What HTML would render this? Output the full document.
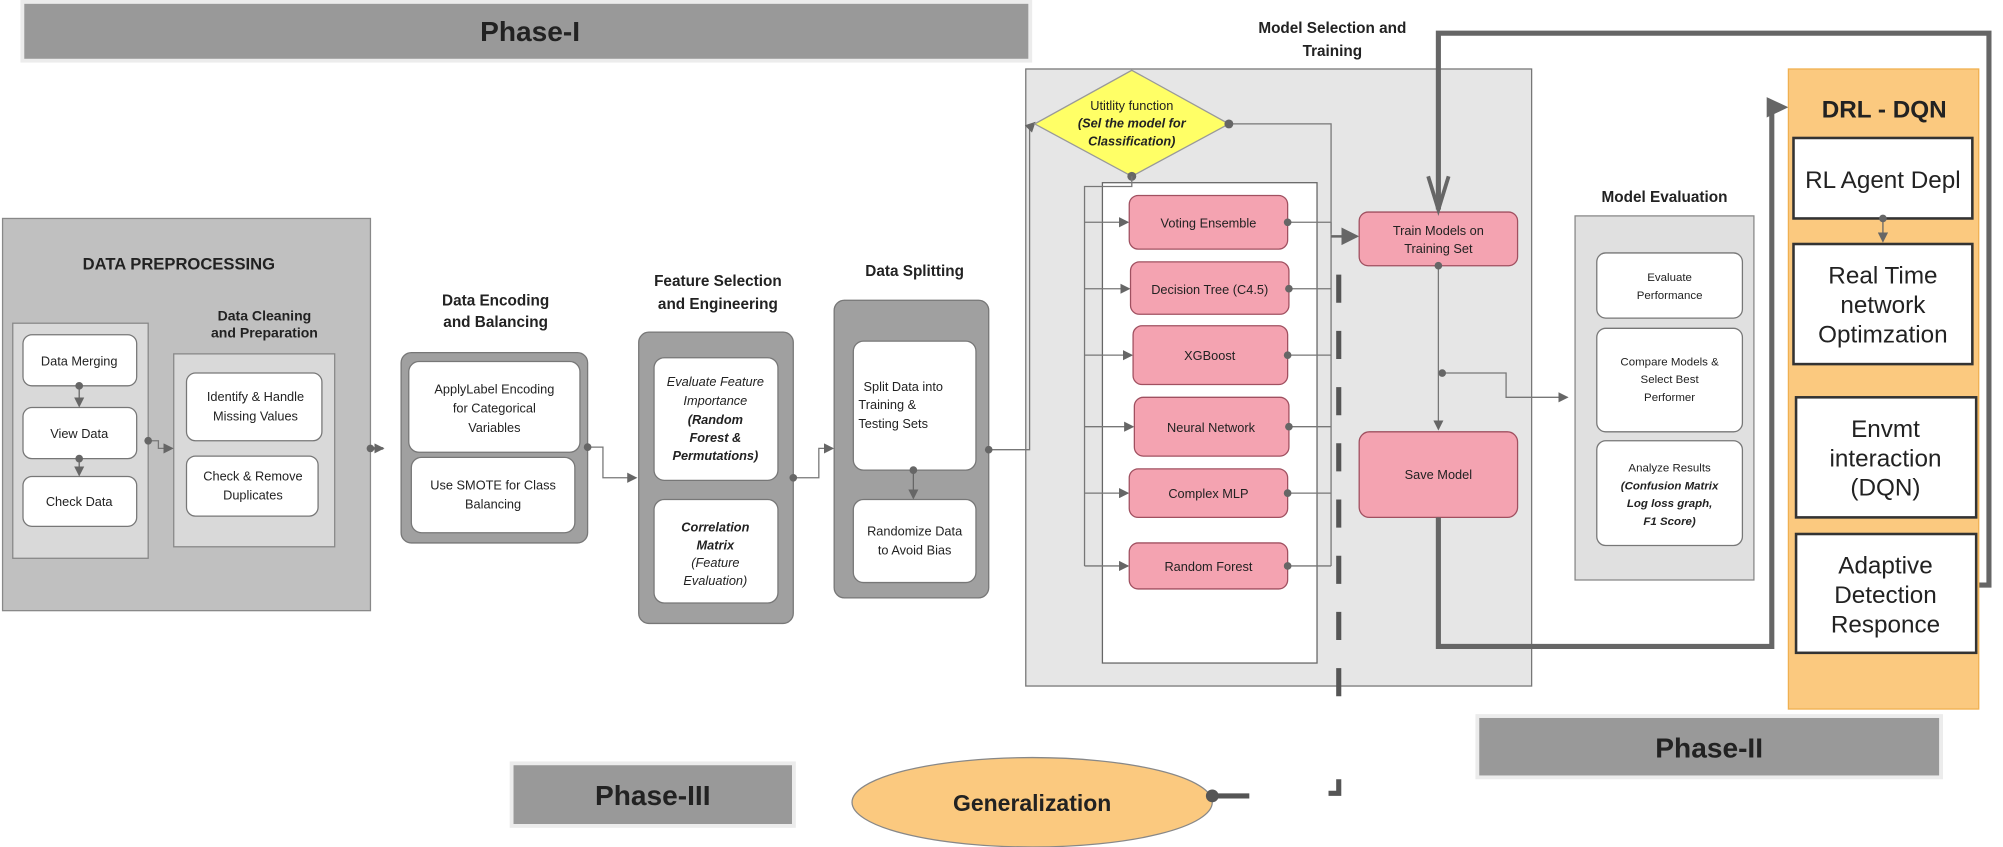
<!DOCTYPE html>
<html><head><meta charset="utf-8"><style>
html,body{margin:0;padding:0;background:#fff;width:2003px;height:847px;overflow:hidden}
svg{display:block}
text{font-family:"Liberation Sans",sans-serif;fill:#222}
</style></head><body>
<svg width="2003" height="847" viewBox="0 0 1568 663" preserveAspectRatio="none" xmlns="http://www.w3.org/2000/svg">
<defs>
<marker id="a" markerWidth="8" markerHeight="8" refX="7" refY="4" orient="auto" markerUnits="userSpaceOnUse"><path d="M0,0L8,4L0,8z" fill="#666"/></marker>
<marker id="b" markerWidth="14" markerHeight="14" refX="12" refY="7" orient="auto" markerUnits="userSpaceOnUse"><path d="M0,0L14,7L0,14z" fill="#666"/></marker>
</defs>
<!-- Phase bars -->
<rect x="16" y="0" width="792" height="49" fill="#ececec"/>
<rect x="19" y="3" width="786" height="43" fill="#999"/>
<text x="415" y="32" font-size="22" font-weight="bold" text-anchor="middle" fill="#111">Phase-I</text>
<rect x="399" y="596" width="224" height="52" fill="#ececec"/>
<rect x="402" y="599" width="218" height="46" fill="#999"/>
<text x="511" y="630" font-size="22" font-weight="bold" text-anchor="middle" fill="#111">Phase-III</text>
<rect x="1155" y="559" width="366" height="51" fill="#ececec"/>
<rect x="1158" y="562" width="360" height="45" fill="#999"/>
<text x="1338" y="593" font-size="22" font-weight="bold" text-anchor="middle" fill="#111">Phase-II</text>

<!-- Data preprocessing -->
<rect x="2" y="171" width="288" height="307" fill="#c0c0c0" stroke="#888"/>
<text x="140" y="211" font-size="13" font-weight="bold" text-anchor="middle" fill="#1f3864">DATA PREPROCESSING</text>
<rect x="10" y="253" width="106" height="184" fill="#d9d9d9" stroke="#888"/>
<rect x="18" y="262" width="89" height="40" rx="7" fill="#fff" stroke="#777"/>
<text x="62" y="286" font-size="10" text-anchor="middle">Data Merging</text>
<rect x="18" y="319" width="89" height="40" rx="7" fill="#fff" stroke="#777"/>
<text x="62" y="343" font-size="10" text-anchor="middle">View Data</text>
<rect x="18" y="373" width="89" height="39" rx="7" fill="#fff" stroke="#777"/>
<text x="62" y="396" font-size="10" text-anchor="middle">Check Data</text>
<g stroke="#666" fill="none"><line x1="62" y1="302" x2="62" y2="318" marker-end="url(#a)"/><line x1="62" y1="359" x2="62" y2="372" marker-end="url(#a)"/></g>
<circle cx="62" cy="302" r="3" fill="#666"/><circle cx="62" cy="359" r="3" fill="#666"/>
<text x="207" y="251" font-size="11" font-weight="bold" text-anchor="middle">Data Cleaning</text>
<text x="207" y="264" font-size="11" font-weight="bold" text-anchor="middle">and Preparation</text>
<rect x="136" y="277" width="126" height="151" fill="#d9d9d9" stroke="#888"/>
<rect x="146" y="292" width="106" height="53" rx="7" fill="#fff" stroke="#777"/>
<text x="200" y="314" font-size="10" text-anchor="middle">Identify &amp; Handle</text>
<text x="200" y="329" font-size="10" text-anchor="middle">Missing Values</text>
<rect x="146" y="357" width="103" height="47" rx="7" fill="#fff" stroke="#777"/>
<text x="198" y="376" font-size="10" text-anchor="middle">Check &amp; Remove</text>
<text x="198" y="391" font-size="10" text-anchor="middle">Duplicates</text>
<polyline points="116,345 124,345 124,351 135,351" fill="none" stroke="#777" marker-end="url(#a)"/>
<circle cx="116" cy="345" r="3" fill="#666"/>
<polyline points="288,351 300,351" fill="none" stroke="#666" stroke-width="2" marker-end="url(#a)"/>
<circle cx="290" cy="351" r="3" fill="#666"/>

<!-- Data encoding -->
<text x="388" y="239" font-size="12" font-weight="bold" text-anchor="middle">Data Encoding</text>
<text x="388" y="256" font-size="12" font-weight="bold" text-anchor="middle">and Balancing</text>
<rect x="314" y="276" width="146" height="149" rx="8" fill="#a0a0a0" stroke="#777"/>
<rect x="320" y="283" width="134" height="71" rx="8" fill="#fff" stroke="#777"/>
<text x="387" y="308" font-size="10" text-anchor="middle">ApplyLabel Encoding</text>
<text x="387" y="323" font-size="10" text-anchor="middle">for Categorical</text>
<text x="387" y="338" font-size="10" text-anchor="middle">Variables</text>
<rect x="322" y="358" width="128" height="59" rx="8" fill="#fff" stroke="#777"/>
<text x="386" y="383" font-size="10" text-anchor="middle">Use SMOTE for Class</text>
<text x="386" y="398" font-size="10" text-anchor="middle">Balancing</text>
<polyline points="460,350 472,350 472,374 498,374" fill="none" stroke="#777" marker-end="url(#a)"/>
<circle cx="460" cy="350" r="3" fill="#666"/>

<!-- Feature selection -->
<text x="562" y="224" font-size="12" font-weight="bold" text-anchor="middle">Feature Selection</text>
<text x="562" y="242" font-size="12" font-weight="bold" text-anchor="middle">and Engineering</text>
<rect x="500" y="260" width="121" height="228" rx="8" fill="#a0a0a0" stroke="#777"/>
<rect x="512" y="280" width="97" height="96" rx="8" fill="#fff" stroke="#777"/>
<text x="560" y="302" font-size="10" font-style="italic" text-anchor="middle">Evaluate Feature</text>
<text x="560" y="317" font-size="10" font-style="italic" text-anchor="middle">Importance</text>
<text x="560" y="332" font-size="10" font-style="italic" font-weight="bold" fill="#1f3864" text-anchor="middle">(Random</text>
<text x="560" y="346" font-size="10" font-style="italic" font-weight="bold" fill="#1f3864" text-anchor="middle">Forest &amp;</text>
<text x="560" y="360" font-size="10" font-style="italic" font-weight="bold" fill="#1f3864" text-anchor="middle">Permutations)</text>
<rect x="512" y="391" width="97" height="81" rx="8" fill="#fff" stroke="#777"/>
<text x="560" y="416" font-size="10" font-style="italic" font-weight="bold" text-anchor="middle">Correlation</text>
<text x="560" y="430" font-size="10" font-style="italic" font-weight="bold" text-anchor="middle">Matrix</text>
<text x="560" y="444" font-size="10" font-style="italic" fill="#2e6b1e" text-anchor="middle">(Feature</text>
<text x="560" y="458" font-size="10" font-style="italic" fill="#2e6b1e" text-anchor="middle">Evaluation)</text>
<polyline points="621,374 641,374 641,351 652,351" fill="none" stroke="#777" marker-end="url(#a)"/>
<circle cx="621" cy="374" r="3" fill="#666"/>

<!-- Data splitting -->
<text x="716" y="216" font-size="12" font-weight="bold" text-anchor="middle">Data Splitting</text>
<rect x="653" y="235" width="121" height="233" rx="8" fill="#a0a0a0" stroke="#777"/>
<rect x="668" y="267" width="96" height="101" rx="8" fill="#fff" stroke="#777"/>
<text x="676" y="306" font-size="10">Split Data into</text>
<text x="672" y="320" font-size="10">Training &amp;</text>
<text x="672" y="335" font-size="10">Testing Sets</text>
<rect x="668" y="391" width="96" height="65" rx="8" fill="#fff" stroke="#777"/>
<text x="716" y="419" font-size="10" text-anchor="middle">Randomize Data</text>
<text x="716" y="434" font-size="10" text-anchor="middle">to Avoid Bias</text>
<line x1="715" y1="368" x2="715" y2="390" stroke="#666" marker-end="url(#a)"/>
<circle cx="715" cy="368" r="3" fill="#666"/>

<!-- Model selection -->
<text x="1043" y="26" font-size="12" font-weight="bold" text-anchor="middle">Model Selection and</text>
<text x="1043" y="44" font-size="12" font-weight="bold" text-anchor="middle">Training</text>
<rect x="803" y="54" width="396" height="483" fill="#e6e6e6" stroke="#777"/>
<polyline points="774,352 806,352 806,100 810,96" fill="none" stroke="#777" marker-end="url(#a)"/>
<circle cx="774" cy="352" r="3" fill="#666"/>
<rect x="863" y="143" width="168" height="376" fill="#fff" stroke="#666"/>
<polygon points="886,55 962,97 886,138 810,97" fill="#ffff66" stroke="#999"/>
<text x="886" y="86" font-size="10" text-anchor="middle">Utitlity function</text>
<text x="886" y="100" font-size="10" font-style="italic" font-weight="bold" text-anchor="middle">(Sel the model for</text>
<text x="886" y="114" font-size="10" font-style="italic" font-weight="bold" text-anchor="middle">Classification)</text>
<polyline points="962,97 1042,97 1042,183" fill="none" stroke="#777"/>
<circle cx="962" cy="97" r="3.5" fill="#666"/>
<circle cx="886" cy="138" r="3.5" fill="#666"/>
<polyline points="886,138 886,146 849,146 849,443" fill="none" stroke="#777"/>
<g fill="none" stroke="#777">
<line x1="849" y1="174" x2="883" y2="174" marker-end="url(#a)"/>
<line x1="849" y1="226" x2="884" y2="226" marker-end="url(#a)"/>
<line x1="849" y1="278" x2="886" y2="278" marker-end="url(#a)"/>
<line x1="849" y1="334" x2="887" y2="334" marker-end="url(#a)"/>
<line x1="849" y1="386" x2="883" y2="386" marker-end="url(#a)"/>
<line x1="849" y1="443" x2="883" y2="443" marker-end="url(#a)"/>
<polyline points="1008,174 1042,174"/><polyline points="1009,226 1042,226"/><polyline points="1008,278 1042,278"/>
<polyline points="1009,334 1042,334"/><polyline points="1008,386 1042,386"/><polyline points="1008,443 1042,443"/>
<line x1="1042" y1="174" x2="1042" y2="443"/>
</g>
<path d="M1042,185 L1062,185" stroke="#666" stroke-width="2" fill="none" marker-end="url(#b)"/>
<g fill="#f4a3b1" stroke="#a05060">
<rect x="884" y="153" width="124" height="42" rx="7"/>
<rect x="885" y="205" width="124" height="41" rx="7"/>
<rect x="887" y="255" width="121" height="46" rx="7"/>
<rect x="888" y="311" width="121" height="46" rx="7"/>
<rect x="884" y="367" width="124" height="38" rx="7"/>
<rect x="884" y="425" width="124" height="36" rx="7"/>
</g>
<g font-size="10" text-anchor="middle">
<text x="946" y="178">Voting Ensemble</text>
<text x="947" y="230">Decision Tree (C4.5)</text>
<text x="947" y="282">XGBoost</text>
<text x="948" y="338">Neural Network</text>
<text x="946" y="390">Complex MLP</text>
<text x="946" y="447">Random Forest</text>
</g>
<g fill="#666"><circle cx="1008" cy="174" r="3"/><circle cx="1009" cy="226" r="3"/><circle cx="1008" cy="278" r="3"/><circle cx="1009" cy="334" r="3"/><circle cx="1008" cy="386" r="3"/><circle cx="1008" cy="443" r="3"/></g>
<!-- dashed thick line -->
<line x1="1048" y1="215" x2="1048" y2="560" stroke="#555" stroke-width="4" stroke-dasharray="22,22"/>
<polyline points="1048,610 1048,621 1040,621" fill="none" stroke="#555" stroke-width="4"/>
<!-- Train / Save -->
<rect x="1064" y="166" width="124" height="42" rx="7" fill="#f4a3b1" stroke="#a05060"/>
<text x="1126" y="184" font-size="10" text-anchor="middle">Train Models on</text>
<text x="1126" y="198" font-size="10" text-anchor="middle">Training Set</text>
<rect x="1064" y="338" width="124" height="67" rx="8" fill="#f4a3b1" stroke="#a05060"/>
<text x="1126" y="375" font-size="10" text-anchor="middle">Save Model</text>
<line x1="1126" y1="208" x2="1126" y2="336" stroke="#777" marker-end="url(#a)"/>
<circle cx="1126" cy="208" r="3" fill="#666"/>
<polyline points="1129,292 1179,292 1179,311 1227,311" fill="none" stroke="#777" marker-end="url(#a)"/>
<circle cx="1129" cy="292" r="3" fill="#666"/>
<!-- thick lines -->
<polyline points="1126,164 1126,26 1557,26 1557,458 1548,458" fill="none" stroke="#666" stroke-width="4"/>
<path d="M1118,138 L1126,164 L1134,138" fill="none" stroke="#666" stroke-width="3"/>
<polyline points="1126,405 1126,506 1387,506 1387,84 1392,84" fill="none" stroke="#666" stroke-width="4"/>
<path d="M1383,76 L1400,84 L1383,92z" fill="#666"/>
<!-- Model evaluation -->
<text x="1303" y="158" font-size="12" font-weight="bold" text-anchor="middle">Model Evaluation</text>
<rect x="1233" y="169" width="140" height="285" fill="#e0e0e0" stroke="#888"/>
<rect x="1250" y="198" width="114" height="51" rx="7" fill="#fff" stroke="#777"/>
<text x="1307" y="220" font-size="9" text-anchor="middle">Evaluate</text>
<text x="1307" y="234" font-size="9" text-anchor="middle">Performance</text>
<rect x="1250" y="257" width="114" height="81" rx="7" fill="#fff" stroke="#777"/>
<text x="1307" y="286" font-size="9" text-anchor="middle">Compare Models &amp;</text>
<text x="1307" y="300" font-size="9" text-anchor="middle">Select Best</text>
<text x="1307" y="314" font-size="9" text-anchor="middle">Performer</text>
<rect x="1250" y="345" width="114" height="82" rx="7" fill="#fff" stroke="#777"/>
<text x="1307" y="369" font-size="9" text-anchor="middle">Analyze Results</text>
<text x="1307" y="383" font-size="9" font-style="italic" font-weight="bold" text-anchor="middle">(Confusion Matrix</text>
<text x="1307" y="397" font-size="9" font-style="italic" font-weight="bold" text-anchor="middle">Log loss graph,</text>
<text x="1307" y="411" font-size="9" font-style="italic" font-weight="bold" text-anchor="middle">F1 Score)</text>
<!-- DRL -->
<rect x="1400" y="54" width="149" height="501" fill="#fbc97f" stroke="#f0b050"/>
<text x="1475" y="92" font-size="19" font-weight="bold" text-anchor="middle" fill="#111">DRL - DQN</text>
<g fill="#fff" stroke="#333" stroke-width="2">
<rect x="1404" y="108" width="140" height="63"/>
<rect x="1404" y="191" width="140" height="94"/>
<rect x="1406" y="311" width="141" height="94"/>
<rect x="1406" y="418" width="141" height="93"/>
</g>
<line x1="1474" y1="171" x2="1474" y2="189" stroke="#666" marker-end="url(#a)"/>
<circle cx="1474" cy="171" r="3" fill="#666"/>
<g font-size="19" text-anchor="middle" fill="#222">
<text x="1474" y="147">RL Agent Depl</text>
<text x="1474" y="222">Real Time</text><text x="1474" y="245">network</text><text x="1474" y="268">Optimzation</text>
<text x="1476" y="342">Envmt</text><text x="1476" y="365">interaction</text><text x="1476" y="388">(DQN)</text>
<text x="1476" y="449">Adaptive</text><text x="1476" y="472">Detection</text><text x="1476" y="495">Responce</text>
</g>
<!-- Generalization -->
<ellipse cx="808" cy="628" rx="141" ry="35" fill="#fbc97f" stroke="#888"/>
<text x="808" y="635" font-size="18" font-weight="bold" text-anchor="middle" fill="#111">Generalization</text>
<line x1="949" y1="623" x2="978" y2="623" stroke="#555" stroke-width="4"/>
<circle cx="949" cy="623" r="5" fill="#555"/>
</svg>
</body></html>
